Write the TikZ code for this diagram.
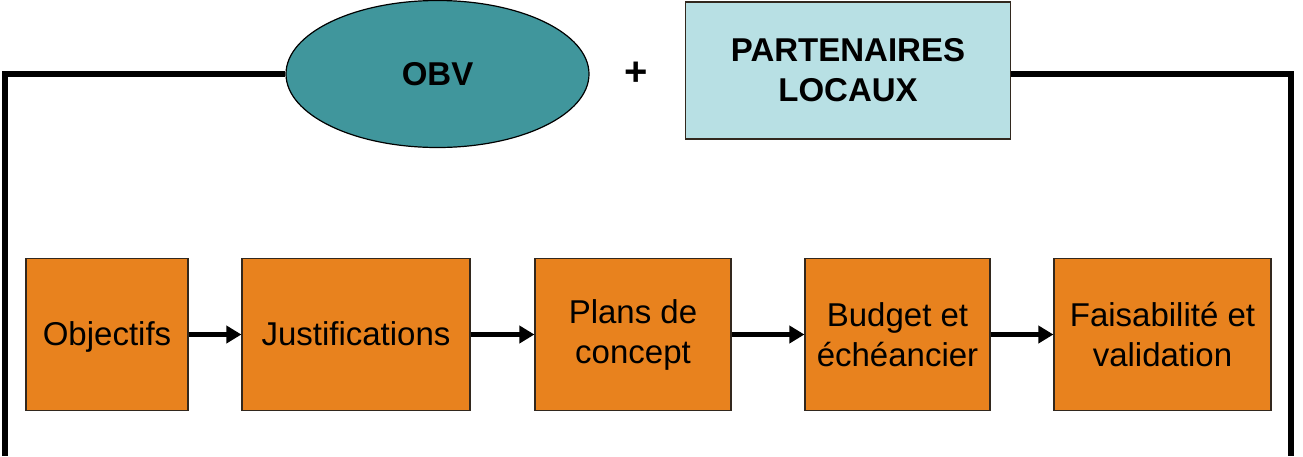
\documentclass[tikz,border=0pt]{standalone}
\usepackage{fontspec}
\setmainfont{Liberation Sans}
\usetikzlibrary{shapes.geometric,arrows.meta}
\definecolor{teal1}{RGB}{64,150,156}
\definecolor{cyan1}{RGB}{184,224,228}
\definecolor{orange1}{RGB}{232,130,30}
\definecolor{edge1}{RGB}{50,40,30}
\tikzset{
  txt/.style={font=\fontsize{33}{40}\selectfont, align=center, inner sep=0pt},
  stepbox/.style={txt, draw=edge1, line width=1.2pt, fill=orange1, minimum height=152pt},
  frame/.style={line width=5.5pt, black},
  flow/.style={line width=5pt, -{Triangle[length=15pt,width=17pt]}},
}
\begin{document}
\begin{tikzpicture}[x=1pt,y=-1pt]
\useasboundingbox (0,0) rectangle (1303,456);
\node[txt, ellipse, draw=black, line width=1.2pt, fill=teal1, minimum width=303pt, minimum height=147pt, font=\fontsize{33}{40}\selectfont\bfseries] (obv) at (437.5,74) {OBV};
\node[txt, font=\fontsize{40}{40}\selectfont\bfseries] (plus) at (636,74) {+};
\node[txt, rectangle, draw=edge1, line width=1.2pt, fill=cyan1, minimum width=325pt, minimum height=137pt, font=\fontsize{33}{40}\selectfont\bfseries] (part) at (848,70.5) {PARTENAIRES\\LOCAUX};
\coordinate (tl) at (5,74);
\coordinate (bl) at (5,456);
\coordinate (tr) at (1291,74);
\coordinate (br) at (1291,456);
\draw[frame] (obv.west) -- (tl) -- (bl);
\draw[frame] (part.east |- obv.west) -- (tr) -- (br);
\node[stepbox, minimum width=162pt, text depth=2pt] (s1) at (107,334.5) {Objectifs};
\node[stepbox, minimum width=228pt, text depth=2pt] (s2) at (356,334.5) {Justifications};
\node[stepbox, minimum width=196pt] (s3) at (633,334.5) {\raisebox{-4pt}{\parbox{190pt}{\centering Plans de\\concept}}};
\node[stepbox, minimum width=185pt] (s4) at (897.5,334.5) {Budget et\\échéancier};
\node[stepbox, minimum width=217pt] (s5) at (1162.5,334.5) {Faisabilité et\\validation};
\draw[flow] (s1.east) -- (s2.west);
\draw[flow] (s2.east) -- (s3.west);
\draw[flow] (s3.east) -- (s4.west);
\draw[flow] (s4.east) -- (s5.west);
\end{tikzpicture}
\end{document}
